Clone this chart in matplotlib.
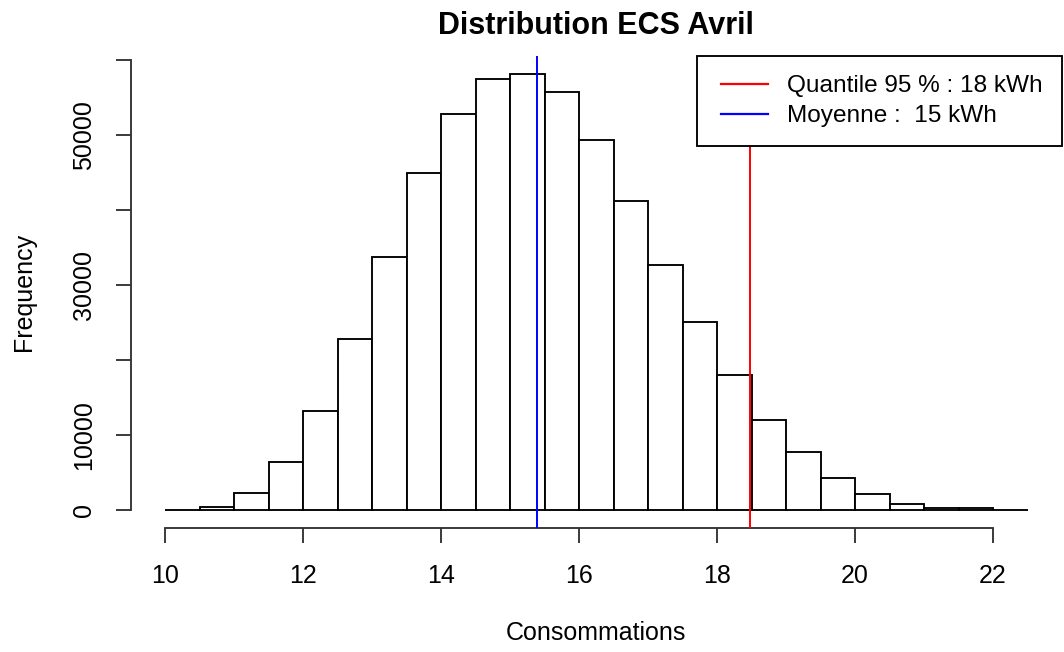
import matplotlib
matplotlib.use('Agg')
import matplotlib.pyplot as plt
from matplotlib.lines import Line2D
from matplotlib.legend_handler import HandlerLine2D

# ---- data ----
bin_edges = [10.0, 10.5, 11.0, 11.5, 12.0, 12.5, 13.0, 13.5, 14.0, 14.5, 15.0,
             15.5, 16.0, 16.5, 17.0, 17.5, 18.0, 18.5, 19.0, 19.5, 20.0, 20.5,
             21.0, 21.5, 22.0, 22.5]
counts = [0, 450, 2200, 6450, 13250, 22850, 33750, 44900, 52750, 57450, 58150,
          55750, 49350, 41250, 32650, 25000, 17950, 12000, 7750, 4300, 2150,
          850, 220, 220, 0]
quantile95 = 18.48
moyenne = 15.39
xticks = [10, 12, 14, 16, 18, 20, 22]
yticks = [0, 10000, 20000, 30000, 40000, 50000, 60000]
ytick_labels = ['0', '10000', '', '30000', '', '50000', '']
legend_labels = ['Quantile 95 % : 18 kWh', 'Moyenne :  15 kWh']
legend_colors = ['red', 'blue']

plt.rcParams['font.family'] = ['Liberation Sans', 'DejaVu Sans']

W, H = 1064, 652
fig = plt.figure(figsize=(W / 100, H / 100), dpi=100)
ax = fig.add_axes([130.5 / W, 1 - 528 / H, 931.5 / W, 472 / H])

lw = 1.35
widths = [bin_edges[i + 1] - bin_edges[i] for i in range(len(counts))]
ax.bar(bin_edges[:-1], counts, width=widths, align='edge',
       facecolor='white', edgecolor='black', linewidth=lw, zorder=2)
ax.axvline(quantile95, color='red', lw=1.4, zorder=3)
ax.axvline(moyenne, color='blue', lw=1.4, zorder=3)

ax.set_xlim(9.5, 23)
ax.set_ylim(-2400, 60530)

for s in ['top', 'right']:
    ax.spines[s].set_visible(False)
ax.spines['left'].set_bounds(0, 60000)
ax.spines['bottom'].set_bounds(10, 22)
ax.spines['left'].set_linewidth(lw)
ax.spines['bottom'].set_linewidth(lw)
ax.spines['left'].set_color('#333333')
ax.spines['bottom'].set_color('#333333')

ax.set_xticks(xticks)
ax.set_xticklabels([str(t) for t in xticks])
ax.set_yticks(yticks)
ax.set_yticklabels(ytick_labels, rotation=90, va='center')
ax.tick_params(axis='both', length=10.8, width=lw, color='#333333',
               labelsize=18, direction='out')
ax.tick_params(axis='x', pad=15)
ax.tick_params(axis='y', pad=14)

ax.set_title('Distribution ECS Avril', fontsize=22, fontweight='bold', pad=16)
ax.set_xlabel('Consommations', fontsize=18)
ax.xaxis.set_label_coords(0.4997, -0.197)
ax.set_ylabel('Frequency', fontsize=18)
ax.yaxis.label.set_va('center')
ax.yaxis.set_label_coords(-0.1143, 0.5)

leg_fs = 17.6
handles = [Line2D([0], [0], color=c, lw=1.6) for c in legend_colors]
handler = HandlerLine2D(numpoints=2, marker_pad=4.7 / (leg_fs * 100 / 72))
leg = ax.legend(handles, legend_labels, loc='upper right', fontsize=leg_fs,
                frameon=True, fancybox=False, edgecolor='black', framealpha=1,
                borderaxespad=0, handlelength=2.31, handletextpad=0.57,
                labelspacing=0.31, borderpad=0.79,
                handler_map={Line2D: handler})
leg.get_frame().set_linewidth(lw)
leg.set_zorder(5)

fig.savefig('out.png', dpi=100, facecolor='white')
